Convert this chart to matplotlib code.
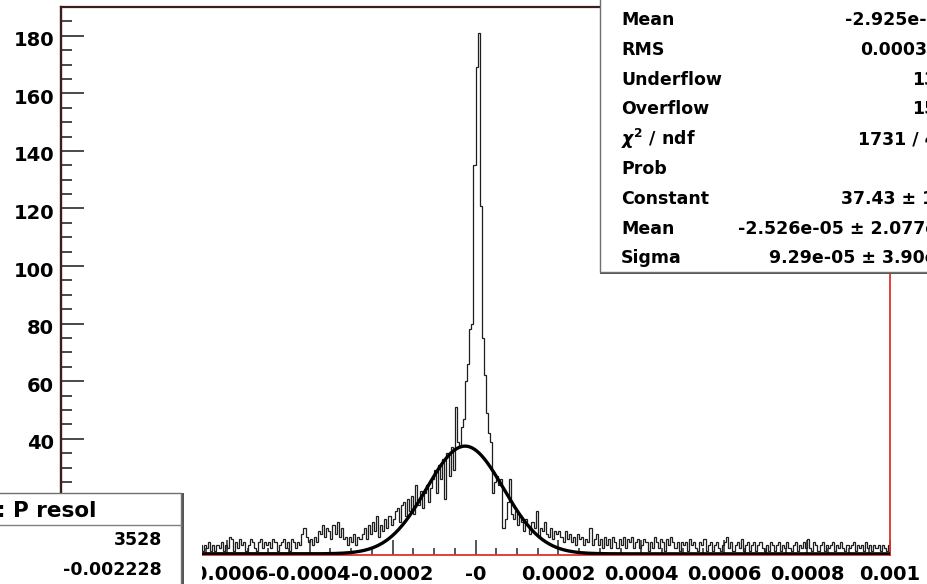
import numpy as np
import matplotlib
matplotlib.use("Agg")
import matplotlib.pyplot as plt
import matplotlib.transforms as mtransforms
from matplotlib.patches import Rectangle
from matplotlib.lines import Line2D

# ---------------------------------------------------------------- data
x_range = (-0.001, 0.001)
n_bins = 400

# momentum resolution histogram, bin contents (400 bins from -0.001 to 0.001)
counts = [
    3, 2, 4, 3, 1, 5, 2, 3, 4, 2, 3, 5, 2, 4, 3, 2, 4, 3, 5, 2,
    3, 4, 2, 3, 5, 3, 2, 4, 3, 2, 5, 3, 4, 2, 3, 4, 3, 2, 5, 3,
    4, 2, 3, 5, 3, 4, 2, 4, 3, 5, 2, 4, 3, 4, 2, 5, 3, 4, 3, 4,
    3, 5, 2, 4, 3, 4, 5, 3, 1, 3, 2, 4, 1, 3, 1, 3, 2, 4, 1, 3,
    2, 6, 5, 1, 4, 2, 5, 3, 4, 1, 3, 5, 4, 2, 1, 4, 5, 2, 4, 3,
    4, 2, 5, 4, 1, 3, 4, 5, 2, 4, 1, 5, 4, 2, 4, 3, 7, 9, 6, 4,
    5, 3, 6, 4, 8, 7, 10, 6, 9, 8, 5, 10, 7, 11, 6, 9, 5, 6, 3, 6,
    4, 7, 3, 6, 5, 7, 9, 5, 10, 7, 11, 8, 13, 6, 10, 8, 12, 9, 13, 10,
    12, 15, 16, 11, 17, 18, 13, 19, 15, 20, 14, 24, 17, 22, 16, 21, 24, 18, 23, 26,
    29, 21, 31, 26, 33, 19, 35, 27, 37, 29, 51, 39, 37, 44, 47, 60, 66, 78, 80, 135,
    169, 181, 121, 75, 62, 49, 42, 39, 21, 25, 27, 24, 26, 9, 12, 18, 26, 14, 12, 15,
    10, 13, 11, 8, 12, 10, 7, 11, 9, 15, 6, 9, 8, 11, 7, 6, 9, 5, 8, 7,
    8, 6, 4, 8, 5, 7, 4, 6, 3, 7, 5, 6, 3, 5, 4, 9, 3, 5, 7, 3,
    5, 2, 6, 3, 5, 2, 6, 4, 2, 5, 3, 6, 2, 5, 4, 6, 2, 4, 5, 2,
    3, 5, 4, 1, 4, 2, 6, 4, 2, 5, 4, 1, 5, 3, 6, 4, 2, 4, 1, 4,
    3, 4, 1, 5, 3, 4, 2, 1, 4, 3, 5, 1, 3, 4, 1, 3, 4, 2, 1, 3,
    4, 6, 2, 4, 1, 3, 4, 2, 5, 1, 3, 4, 1, 3, 4, 1, 3, 4, 2, 1,
    3, 1, 4, 3, 1, 3, 4, 1, 3, 2, 4, 2, 1, 3, 4, 1, 3, 2, 4, 2,
    5, 2, 1, 4, 3, 1, 3, 4, 1, 3, 2, 3, 4, 1, 3, 2, 4, 2, 1, 3,
    2, 3, 4, 1, 3, 2, 3, 1, 4, 2, 3, 1, 3, 2, 3, 1, 3, 2, 1, 3,
]

# gaussian fit parameters
fit_constant = 37.43
fit_mean = -2.526e-05
fit_sigma = 9.29e-05

y_max = 190
y_tick_values = [0, 20, 40, 60, 80, 100, 120, 140, 160, 180]
x_tick_values = [-0.001, -0.0008, -0.0006, -0.0004, -0.0002, 0.0,
                 0.0002, 0.0004, 0.0006, 0.0008, 0.001]
x_tick_labels = ["-0.001", "-0.0008", "-0.0006", "-0.0004", "-0.0002", "-0",
                 "0.0002", "0.0004", "0.0006", "0.0008", "0.001"]

stats_names = ["Mean", "RMS", "Underflow", "Overflow", r"$\chi^{2}$ / ndf",
               "Prob", "Constant", "Mean", "Sigma"]
stats_values = ["-2.925e-05", "0.0003236", "132", "154", "1731 / 437",
                "0", "37.43 \u00b1 1.09", "-2.526e-05 \u00b1 2.077e-06",
                "9.29e-05 \u00b1 3.90e-06"]

other_title = ": P resol"
other_values = ["3528", "-0.002228"]

# ---------------------------------------------------------------- style
plt.rcParams["font.family"] = ["DejaVu Sans"]
plt.rcParams["font.weight"] = "bold"
plt.rcParams["mathtext.fontset"] = "dejavusans"

W, H = 927, 584
fig = plt.figure(figsize=(W / 100, H / 100), dpi=100)
fig.patch.set_facecolor("white")


def fx(x):
    return x / W


def fy(y):
    return 1 - y / H


ax = fig.add_axes([fx(61), fy(555), 829 / W, 548 / H])
ax.set_facecolor("white")

edges = np.linspace(x_range[0], x_range[1], n_bins + 1)
ax.stairs(counts, edges, color="#1e1e1e", lw=0.9, zorder=2)

xs = np.linspace(x_range[0], x_range[1], 1500)
gauss = fit_constant * np.exp(-0.5 * ((xs - fit_mean) / fit_sigma) ** 2)
ax.plot(xs, gauss, color="black", lw=2.4, zorder=3, solid_capstyle="round")

ax.set_xlim(*x_range)
ax.set_ylim(-0.4, y_max)

ax.set_yticks(y_tick_values)
ax.set_yticks(np.arange(0, y_max, 5), minor=True)
ax.set_xticks(x_tick_values, x_tick_labels)
ax.set_xticks(np.linspace(x_range[0], x_range[1], 41), minor=True)

tick_col = "#3a3a3a"
ax.tick_params(axis="y", which="major", direction="in", length=16.5, width=1.3,
               color=tick_col, labelsize=14, pad=5)
ax.tick_params(axis="y", which="minor", direction="in", length=8, width=1.3,
               color=tick_col)
ax.tick_params(axis="x", which="major", direction="in", length=11, width=1.2,
               color=tick_col, labelsize=14, pad=7)
ax.tick_params(axis="x", which="minor", direction="in", length=5, width=1.2,
               color=tick_col)

shift = mtransforms.ScaledTranslation(0, -3 / 100, fig.dpi_scale_trans)
for lbl in ax.get_yticklabels():
    lbl.set_transform(lbl.get_transform() + shift)

ax.spines["left"].set_color("#3d1c1c")
ax.spines["left"].set_linewidth(1.7)
ax.spines["top"].set_color("#3d1c1c")
ax.spines["top"].set_linewidth(1.6)
ax.spines["right"].set_color("#e0302a")
ax.spines["right"].set_linewidth(1.3)
ax.spines["bottom"].set_color("#e0302a")
ax.spines["bottom"].set_linewidth(1.3)


# ---------------------------------------------------------------- statistics box (top right)
def box(x0, y0, x1, y1, z):
    fig.add_artist(Rectangle((fx(x0), fy(y1) - 2 / H), (x1 - x0) / W, (y1 - y0) / H,
                             transform=fig.transFigure, facecolor="#555555",
                             edgecolor="none", zorder=z))
    fig.add_artist(Rectangle((fx(x0), fy(y1)), (x1 - x0) / W, (y1 - y0) / H,
                             transform=fig.transFigure, facecolor="white",
                             edgecolor="#707070", lw=1.0, zorder=z + 0.1))


box(600, -10, 940, 272, 10)

value_starts = [845, 860, 912, 912, 858, 935, 841, 738, 769]
row_y0, row_dy = 20, 29.8
for i, (name, val) in enumerate(zip(stats_names, stats_values)):
    y = row_y0 + i * row_dy
    fig.text(fx(621), fy(y), name, fontsize=12.5, ha="left", va="center",
             zorder=12, color="black")
    fig.text(fx(value_starts[i]), fy(y), val, fontsize=12.5, ha="left",
             va="center", zorder=12, color="black")

# ---------------------------------------------------------------- neighbouring stats box (bottom left)
fig.add_artist(Rectangle((0, 0), fx(202), fy(493),
                         transform=fig.transFigure, facecolor="white",
                         edgecolor="none", zorder=9))
fig.add_artist(Rectangle((fx(-10) + 2 / W, fy(600)), 192 / W, 107 / H,
                         transform=fig.transFigure, facecolor="#555555",
                         edgecolor="none", zorder=10))
fig.add_artist(Rectangle((fx(-10), fy(600)), 191 / W, 107 / H,
                         transform=fig.transFigure, facecolor="white",
                         edgecolor="#707070", lw=1.0, zorder=10.1))
fig.add_artist(Line2D([fx(-10), fx(181)], [fy(525), fy(525)],
                      transform=fig.transFigure, color="#808080", lw=1.0,
                      zorder=10.2))
fig.text(fx(-3), fy(511), other_title, fontsize=15.5, ha="left", va="center",
         zorder=12)
fig.text(fx(162), fy(540), other_values[0], fontsize=12.5, ha="right",
         va="center", zorder=12)
fig.text(fx(162), fy(570), other_values[1], fontsize=12.5, ha="right",
         va="center", zorder=12)

fig.savefig("out.png", dpi=100, facecolor="white")
